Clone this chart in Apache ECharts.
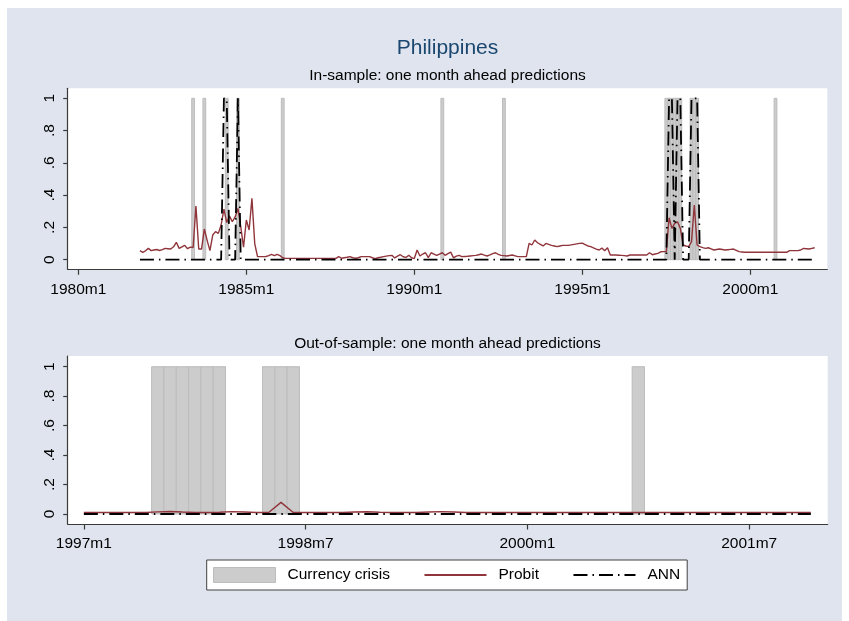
<!DOCTYPE html>
<html><head><meta charset="utf-8">
<script src="https://cdn.jsdelivr.net/npm/echarts@6/dist/echarts.min.js"></script>
<style>
html,body{margin:0;padding:0;background:#fff;width:849px;height:621px;overflow:hidden}
#chart{position:absolute;left:7px;top:8px;width:835px;height:613px}
</style></head><body><div id="chart"></div>
<script>
// ---------- DATA ----------
const inSampleStart = '1981m11';
const probitIn = [
  0.056, 0.046,
  0.055, 0.07, 0.056, 0.06, 0.063, 0.057, 0.062, 0.07, 0.068, 0.066, 0.08, 0.108,
  0.07, 0.08, 0.089, 0.068, 0.078, 0.076, 0.333, 0.066, 0.066, 0.19, 0.12, 0.056,
  0.153, 0.174, 0.163, 0.215, 0.314, 0.23, 0.27, 0.235, 0.265, 0.318, 0.205, 0.077,
  0.246, 0.184, 0.38, 0.1, 0.019, 0.019, 0.019, 0.02, 0.025, 0.033, 0.025, 0.033,
  0.025, 0.012, 0.008, 0.008, 0.008, 0.008, 0.008, 0.008, 0.008, 0.008, 0.008, 0.008,
  0.008, 0.008, 0.008, 0.008, 0.008, 0.008, 0.008, 0.008, 0.008, 0.019, 0.009, 0.012,
  0.015, 0.019, 0.012, 0.009, 0.012, 0.019, 0.019, 0.019, 0.019, 0.012, 0.007, 0.012,
  0.015, 0.019, 0.022, 0.025, 0.027, 0.011, 0.022, 0.031, 0.018, 0.014, 0.027, 0.012,
  0.007, 0.06, 0.023, 0.035, 0.043, 0.013, 0.043, 0.035, 0.027, 0.035, 0.043, 0.027,
  0.037, 0.047, 0.011, 0.022, 0.027, 0.019, 0.02, 0.021, 0.023, 0.025, 0.027, 0.031,
  0.035, 0.028, 0.023, 0.03, 0.038, 0.043, 0.033, 0.027, 0.025, 0.023, 0.026, 0.029,
  0.024, 0.019, 0.019, 0.019, 0.019, 0.101, 0.091, 0.122, 0.105, 0.095, 0.085, 0.101,
  0.095, 0.089, 0.085, 0.081, 0.085, 0.089, 0.089, 0.089, 0.092, 0.095, 0.098, 0.101,
  0.103, 0.094, 0.085, 0.081, 0.073, 0.066, 0.06, 0.072, 0.056, 0.074, 0.029, 0.029,
  0.029, 0.028, 0.027, 0.025, 0.023, 0.029, 0.029, 0.029, 0.029, 0.029, 0.029, 0.029,
  0.043, 0.031, 0.035, 0.039, 0.049, 0.05, 0.05, 0.26, 0.194, 0.225, 0.235, 0.194,
  0.091, 0.085, 0.081, 0.112, 0.339, 0.091, 0.081, 0.075, 0.07, 0.074, 0.067, 0.06,
  0.063, 0.066, 0.063, 0.06, 0.062, 0.064, 0.066, 0.058, 0.05, 0.048, 0.046, 0.046,
  0.046, 0.046, 0.046, 0.046, 0.046, 0.046, 0.046, 0.046, 0.046, 0.046, 0.046, 0.046,
  0.046, 0.046, 0.056, 0.056, 0.056, 0.056, 0.06, 0.07, 0.068, 0.066, 0.07, 0.074
];
const annIn = [
  0, 0,
  0,0,0,0,0,0,0,0,0,0,0,0,
  0,0,0,0,0,0,0,0,0,0,0,0,
  0,0,0,0,1,1,0,0,0,1,0,0,
  0,0,0,0,0,0,0,0,0,0,0,0,
  0,0,0,0,0,0,0,0,0,0,0,0,
  0,0,0,0,0,0,0,0,0,0,0,0,
  0,0,0,0,0,0,0,0,0,0,0,0,
  0,0,0,0,0,0,0,0,0,0,0,0,
  0,0,0,0,0,0,0,0,0,0,0,0,
  0,0,0,0,0,0,0,0,0,0,0,0,
  0,0,0,0,0,0,0,0,0,0,0,0,
  0,0,0,0,0,0,0,0,0,0,0,0,
  0,0,0,0,0,0,0,0,0,0,0,0,
  0,0,0,0,0,0,0,0,0,0,0,0,
  0,0,0,0,0,0,0,0,0,0,0,0,
  0,0,0,0,0,0,0,1,1,0,1,1,
  0,0,0,1,1,1,0,0,0,0,0,0,
  0,0,0,0,0,0,0,0,0,0,0,0,
  0,0,0,0,0,0,0,0,0,0,0,0,
  0,0,0,0,0,0,0,0,0,0,0,0
];
const crisisIn = ['1983m6','1983m10','1984m6','1984m10','1986m2','1990m11','1992m9',
  '1997m7','1997m8','1997m9','1997m10','1997m11','1997m12','1998m4','1998m5','1998m6','2000m10'];

const outSampleStart = '1997m1';
const probitOut = [
  0.01, 0.01, 0.01, 0.01, 0.01, 0.01, 0.014, 0.017, 0.013, 0.01, 0.01, 0.012,
  0.016, 0.013, 0.01, 0.01, 0.079, 0.01, 0.01, 0.01, 0.01, 0.01, 0.013, 0.015,
  0.012, 0.01, 0.01, 0.01, 0.013, 0.016, 0.013, 0.01, 0.01, 0.01, 0.01, 0.01,
  0.01, 0.01, 0.01, 0.01, 0.01, 0.01, 0.01, 0.01, 0.01, 0.01, 0.01, 0.01,
  0.01, 0.01, 0.01, 0.01, 0.01, 0.01, 0.01, 0.01, 0.01, 0.01, 0.01, 0.01
];
const annOut = [
  0,0,0,0,0,0,0,0,0,0,0,0,
  0,0,0,0,0,0,0,0,0,0,0,0,
  0,0,0,0,0,0,0,0,0,0,0,0,
  0,0,0,0,0,0,0,0,0,0,0,0,
  0,0,0,0,0,0,0,0,0,0,0,0
];
const crisisOut = ['1997m7','1997m8','1997m9','1997m10','1997m11','1997m12','1998m4','1998m5','1998m6','2000m10'];

const topTickLabels = ['1980m1','1985m1','1990m1','1995m1','2000m1'];
const bottomTickLabels = ['1997m1','1998m7','2000m1','2001m7'];
const yTicks = [0, 0.2, 0.4, 0.6, 0.8, 1];

// ---------- HELPERS ----------
const parseMonth = s => { const p = s.split('m').map(Number); return (p[0] - 1960) * 12 + p[1] - 1; };
const fmtMonth = v => { const r = Math.round(v); return (Math.floor(r / 12) + 1960) + 'm' + (r % 12 + 1); };
const fmtY = v => v === 0 ? '0' : (v === 1 ? '1' : v.toFixed(1).replace(/^0/, ''));
const toSeries = (start, arr) => { const s0 = parseMonth(start); return arr.map((v, i) => [s0 + i, v]); };

const FONT = '"Liberation Sans", Arial, sans-serif';
const AXC = '#3a3a3a';
const CRISIS_FILL = '#cccccc', CRISIS_EDGE = '#bcbcbc';
const PROBIT = '#90353b';
const ANN_DASH = [14, 5, 1.5, 5];

function crisisRender(params, api) {
  const m = api.value(0);
  const a = api.coord([m - 0.5, 1]);
  const b = api.coord([m + 0.5, 0]);
  return { type: 'rect', shape: { x: a[0], y: a[1], width: b[0] - a[0], height: b[1] - a[1] },
           style: { fill: CRISIS_FILL, stroke: CRISIS_EDGE, lineWidth: 1 } };
}

function xAxis(idx, ticks, lo, hi) {
  const vals = ticks.map(parseMonth);
  return { type: 'value', gridIndex: idx, min: lo, max: hi,
    axisLine: { show: true, onZero: false, lineStyle: { color: AXC, width: 1.2 } },
    axisTick: { show: true, customValues: vals, length: 5.5, lineStyle: { color: AXC, width: 1.2 } },
    axisLabel: { customValues: vals, formatter: fmtMonth, margin: 12, fontSize: 15.5, color: '#000', fontFamily: FONT },
    splitLine: { show: false } };
}
function yAxis(idx, lo, hi) {
  return { type: 'value', gridIndex: idx, min: lo, max: hi,
    axisLine: { show: true, onZero: false, lineStyle: { color: AXC, width: 1.2 } },
    axisTick: { show: true, customValues: yTicks, length: 4.5, lineStyle: { color: AXC, width: 1.2 } },
    axisLabel: { customValues: yTicks, formatter: fmtY, rotate: 90, margin: 10, fontSize: 15.5, color: '#000', fontFamily: FONT },
    splitLine: { show: false } };
}

const topStart = parseMonth('1980m1'), botStart = parseMonth('1997m1');

const chart = echarts.init(document.getElementById('chart'), null, { renderer: 'canvas' });
chart.setOption({
  animation: false,
  backgroundColor: '#dfe4ee',
  title: [
    { text: 'Philippines', left: 440.5, top: 30, textAlign: 'center', padding: 0,
      textStyle: { fontSize: 21, fontWeight: 'normal', color: '#1a476f', fontFamily: FONT } },
    { text: 'In-sample: one month ahead predictions', left: 440.5, top: 59.5, textAlign: 'center', padding: 0,
      textStyle: { fontSize: 15.5, fontWeight: 'normal', color: '#000', fontFamily: FONT } },
    { text: 'Out-of-sample: one month ahead predictions', left: 440.5, top: 328, textAlign: 'center', padding: 0,
      textStyle: { fontSize: 15.5, fontWeight: 'normal', color: '#000', fontFamily: FONT } }
  ],
  grid: [
    { left: 60.7, top: 80.3, width: 759.6, height: 181, show: true, backgroundColor: '#fff', borderWidth: 0 },
    { left: 60.7, top: 348, width: 760, height: 168, show: true, backgroundColor: '#fff', borderWidth: 0 }
  ],
  xAxis: [
    xAxis(0, topTickLabels, topStart - 3.8, topStart + 267.5),
    xAxis(1, bottomTickLabels, botStart - 1.31, botStart + 60.37)
  ],
  yAxis: [ yAxis(0, -0.0595, 1.062), yAxis(1, -0.068, 1.0726) ],
  legend: {
    left: 199.7, top: 552, orient: 'horizontal',
    itemWidth: 62, itemHeight: 15, itemGap: 33.5,
    padding: [7, 7, 7, 6.3],
    borderColor: '#404040', borderWidth: 1, borderRadius: 0, backgroundColor: '#fff',
    textStyle: { fontSize: 15.5, color: '#000', fontFamily: FONT, padding: [0, 0, 0, 7] },
    data: [
      { name: 'Currency crisis', icon: 'rect', itemStyle: { color: CRISIS_FILL, borderColor: CRISIS_EDGE, borderWidth: 1 } },
      { name: 'Probit', itemStyle: { opacity: 0 } },
      { name: 'ANN', itemStyle: { opacity: 0 } }
    ]
  },
  series: [
    { name: 'Currency crisis', type: 'custom', xAxisIndex: 0, yAxisIndex: 0, renderItem: crisisRender,
      itemStyle: { color: CRISIS_FILL }, encode: { x: 0 }, data: crisisIn.map(s => [parseMonth(s)]), z: 1 },
    { name: 'Probit', type: 'line', xAxisIndex: 0, yAxisIndex: 0, symbol: 'none', color: PROBIT,
      lineStyle: { color: PROBIT, width: 1.4 }, data: toSeries(inSampleStart, probitIn), z: 2 },
    { name: 'ANN', type: 'line', xAxisIndex: 0, yAxisIndex: 0, symbol: 'none', color: '#000',
      lineStyle: { color: '#000', width: 1.8, type: ANN_DASH }, data: toSeries(inSampleStart, annIn), z: 3 },
    { name: 'Currency crisis', type: 'custom', xAxisIndex: 1, yAxisIndex: 1, renderItem: crisisRender,
      itemStyle: { color: CRISIS_FILL }, encode: { x: 0 }, data: crisisOut.map(s => [parseMonth(s)]), z: 1 },
    { name: 'Probit', type: 'line', xAxisIndex: 1, yAxisIndex: 1, symbol: 'none', color: PROBIT,
      lineStyle: { color: PROBIT, width: 1.4 }, data: toSeries(outSampleStart, probitOut), z: 2 },
    { name: 'ANN', type: 'line', xAxisIndex: 1, yAxisIndex: 1, symbol: 'none', color: '#000',
      lineStyle: { color: '#000', width: 1.8, type: ANN_DASH }, data: toSeries(outSampleStart, annOut), z: 3 }
  ]
});
</script></body></html>
